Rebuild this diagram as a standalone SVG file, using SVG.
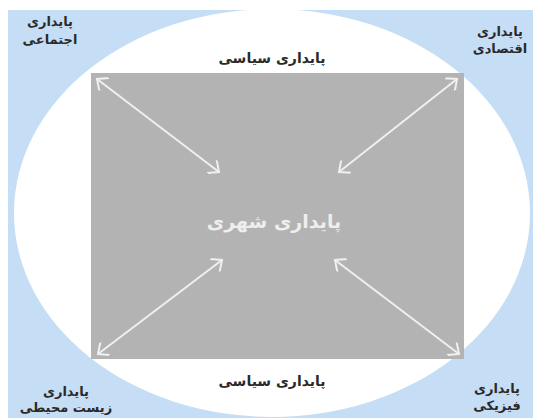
<svg xmlns="http://www.w3.org/2000/svg" width="533" height="418" viewBox="0 0 533 418">
<defs>
<style>
.t{font-family:"DejaVu Sans","Noto Sans",sans-serif;font-weight:bold;font-size:14px;fill:#2a2a2a;text-anchor:middle}
.c{font-size:13px}
.w{fill:#eeeeee;font-size:19px}
.a{stroke:#f0f0f0;stroke-width:2;fill:none;marker-start:url(#h);marker-end:url(#h)}
</style>
<marker id="h" viewBox="0 0 16 16" refX="13" refY="8" markerWidth="16" markerHeight="16" markerUnits="userSpaceOnUse" orient="auto-start-reverse">
<path d="M4,0 L13,8 L4,16" fill="none" stroke="#f0f0f0" stroke-width="2"/>
</marker>
</defs>
<rect width="533" height="418" fill="#ffffff"/>
<rect x="8" y="10" width="525" height="408" fill="#c5def5"/>
<g id="ring">
<ellipse cx="272" cy="213" rx="258" ry="204" fill="#ffffff"/>
</g>
<g id="core">
<rect x="91" y="73" width="373" height="286" fill="#b3b3b3"/>
<text class="t w" x="274" y="228">پایداری شهری</text>
</g>
<g id="connectors">
<line class="a" x1="97" y1="79" x2="219" y2="172"/>
<line class="a" x1="457" y1="79" x2="339" y2="172"/>
<line class="a" x1="98" y1="354" x2="222" y2="260"/>
<line class="a" x1="459" y1="354" x2="335" y2="260"/>
</g>
<g id="top"><text class="t" x="272" y="63">پایداری سیاسی</text></g>
<g id="bottom"><text class="t" x="272" y="386">پایداری سیاسی</text></g>
<g id="social"><text class="t c" x="50" y="26">پایداری</text><text class="t c" x="50" y="44">اجتماعی</text></g>
<g id="economic"><text class="t c" x="500" y="36">پایداری</text><text class="t c" x="500" y="53">اقتصادی</text></g>
<g id="environmental"><text class="t c" x="66" y="396">پایداری</text><text class="t c" x="66" y="412">زیست محیطی</text></g>
<g id="physical"><text class="t c" x="497" y="393">پایداری</text><text class="t c" x="497" y="410">فیزیکی</text></g>
</svg>
